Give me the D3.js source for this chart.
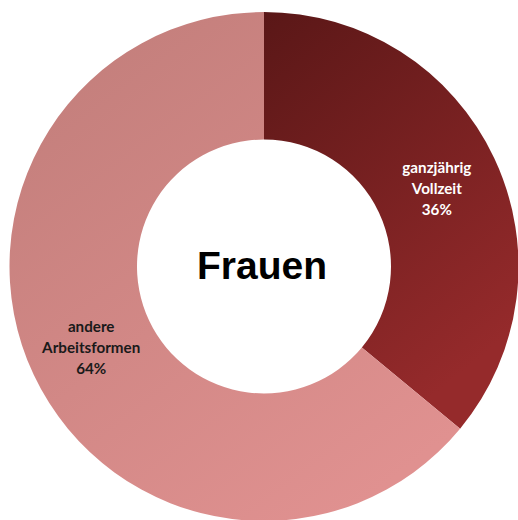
<!DOCTYPE html>
<html>
<head>
<meta charset="utf-8">
<script src="https://cdn.jsdelivr.net/npm/d3@7"></script>
<style>
  html, body { margin: 0; padding: 0; background: #fff; }
  svg { display: block; }
</style>
</head>
<body>
<svg id="chart" width="518" height="520"></svg>
<script>
// data
const categories = ["ganzjährig Vollzeit", "andere Arbeitsformen"];
const labelLines = [["ganzjährig", "Vollzeit"], ["andere", "Arbeitsformen"]];
const values = [36, 64];
const centerTitle = "Frauen";

const width = 518, height = 520;
const cx = 264, cy = 266.5;
const outerR = 254.5, innerR = 127;

const svg = d3.select("#chart");
const defs = svg.append("defs");

// gradients, one per slice (dark red, rose)
const grads = [
  { id: "g0", x1: cx, y1: cy - outerR, x2: cx + outerR, y2: cy + 60, stops: ["#5a1717", "#952a2b"] },
  { id: "g1", x1: cx - 200, y1: cy - 200, x2: cx + 120, y2: cy + 220, stops: ["#c47f7c", "#e09190"] }
];
grads.forEach(g => {
  const lg = defs.append("linearGradient").attr("id", g.id).attr("gradientUnits", "userSpaceOnUse")
    .attr("x1", g.x1 - cx).attr("y1", g.y1 - cy).attr("x2", g.x2 - cx).attr("y2", g.y2 - cy);
  lg.append("stop").attr("offset", "0%").attr("stop-color", g.stops[0]);
  lg.append("stop").attr("offset", "100%").attr("stop-color", g.stops[1]);
});

const pie = d3.pie().sort(null).value(d => d);
const arcs = pie(values);
const arc = d3.arc().innerRadius(innerR).outerRadius(outerR);
const labelArc = d3.arc().innerRadius(191).outerRadius(191);

const g = svg.append("g").attr("transform", `translate(${cx},${cy})`);

g.selectAll("path.slice").data(arcs).join("path")
  .attr("class", "slice")
  .attr("d", arc)
  .attr("fill", (d, i) => `url(#g${i})`);

const labels = g.selectAll("text.lbl").data(arcs).join("text")
  .attr("class", "lbl")
  .attr("transform", d => `translate(${labelArc.centroid(d)})`)
  .attr("text-anchor", "middle")
  .attr("font-family", "Lato, 'Open Sans', sans-serif")
  .attr("font-weight", "bold")
  .attr("font-size", 15.2)
  .attr("fill", (d, i) => i === 0 ? "#ffffff" : "#1a1a1a");

labels.each(function(d, i) {
  const t = d3.select(this);
  const lines = [...labelLines[i], values[i] + "%"];
  const shift = i === 0 ? 9 : 5;
  lines.forEach((line, k) => {
    t.append("tspan").attr("x", 0).attr("y", (k - 1) * 21 + shift).text(line);
  });
});

g.append("text")
  .attr("text-anchor", "middle")
  .attr("x", -2)
  .attr("y", 12)
  .attr("font-family", "'Liberation Sans', Arial, sans-serif")
  .attr("font-weight", "bold")
  .attr("font-size", 39)
  .attr("fill", "#000")
  .text(centerTitle);
</script>
</body>
</html>
